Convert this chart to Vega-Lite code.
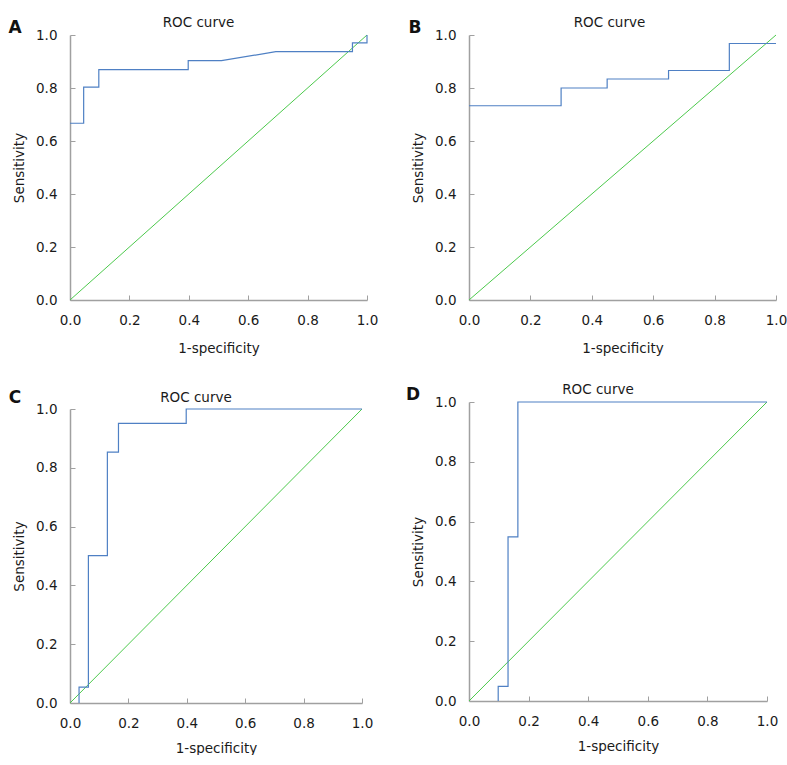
{
  "$schema": "https://vega.github.io/schema/vega-lite/v6.json",
  "background": "white",
  "padding": {"left": 8, "top": 15, "right": 0, "bottom": 0},
  "datasets": {
    "rocA": [
      {"i": 1, "fpr": 0, "tpr": 0.667},
      {"i": 2, "fpr": 0.046, "tpr": 0.667},
      {"i": 3, "fpr": 0.046, "tpr": 0.803},
      {"i": 4, "fpr": 0.097, "tpr": 0.803},
      {"i": 5, "fpr": 0.097, "tpr": 0.869},
      {"i": 6, "fpr": 0.398, "tpr": 0.869},
      {"i": 7, "fpr": 0.398, "tpr": 0.903},
      {"i": 8, "fpr": 0.51, "tpr": 0.903},
      {"i": 9, "fpr": 0.693, "tpr": 0.937},
      {"i": 10, "fpr": 0.951, "tpr": 0.937},
      {"i": 11, "fpr": 0.951, "tpr": 0.97},
      {"i": 12, "fpr": 1, "tpr": 0.97},
      {"i": 13, "fpr": 1, "tpr": 1}
    ],
    "rocB": [
      {"i": 1, "fpr": 0, "tpr": 0.733},
      {"i": 2, "fpr": 0.3, "tpr": 0.733},
      {"i": 3, "fpr": 0.3, "tpr": 0.8},
      {"i": 4, "fpr": 0.45, "tpr": 0.8},
      {"i": 5, "fpr": 0.45, "tpr": 0.834},
      {"i": 6, "fpr": 0.65, "tpr": 0.834},
      {"i": 7, "fpr": 0.65, "tpr": 0.866},
      {"i": 8, "fpr": 0.848, "tpr": 0.866},
      {"i": 9, "fpr": 0.848, "tpr": 0.968},
      {"i": 10, "fpr": 1, "tpr": 0.968}
    ],
    "rocC": [
      {"i": 1, "fpr": 0.031, "tpr": 0},
      {"i": 2, "fpr": 0.031, "tpr": 0.054},
      {"i": 3, "fpr": 0.063, "tpr": 0.054},
      {"i": 4, "fpr": 0.063, "tpr": 0.501},
      {"i": 5, "fpr": 0.128, "tpr": 0.501},
      {"i": 6, "fpr": 0.128, "tpr": 0.853},
      {"i": 7, "fpr": 0.166, "tpr": 0.853},
      {"i": 8, "fpr": 0.166, "tpr": 0.951},
      {"i": 9, "fpr": 0.398, "tpr": 0.951},
      {"i": 10, "fpr": 0.398, "tpr": 1},
      {"i": 11, "fpr": 1, "tpr": 1}
    ],
    "rocD": [
      {"i": 1, "fpr": 0.098, "tpr": 0},
      {"i": 2, "fpr": 0.098, "tpr": 0.049},
      {"i": 3, "fpr": 0.131, "tpr": 0.049},
      {"i": 4, "fpr": 0.131, "tpr": 0.549},
      {"i": 5, "fpr": 0.164, "tpr": 0.549},
      {"i": 6, "fpr": 0.164, "tpr": 1},
      {"i": 7, "fpr": 1, "tpr": 1}
    ],
    "diag": [
      {"i": 0, "fpr": 0, "tpr": 0},
      {"i": 1, "fpr": 1, "tpr": 1}
    ]
  },
  "spacing": 27,
  "hconcat": [
    {
      "spacing": 34,
      "vconcat": [
        {
          "width": 297, "height": 265,
          "title": {"text": "ROC curve", "offset": -10.5},
          "layer": [
            {"data": {"name": "diag"}, "mark": {"type": "line", "color": "#4cc94c", "strokeWidth": 1},
             "encoding": {
               "x": {"field": "fpr", "type": "quantitative", "scale": {"domain": [0, 1], "nice": false}, "axis": {"title": "1-specificity", "values": [0, 0.2, 0.4, 0.6, 0.8, 1]}},
               "y": {"field": "tpr", "type": "quantitative", "scale": {"domain": [0, 1], "nice": false}, "axis": {"title": "Sensitivity", "values": [0, 0.2, 0.4, 0.6, 0.8, 1]}},
               "order": {"field": "i"}}},
            {"data": {"name": "rocA"}, "mark": {"type": "line", "color": "#4f80c4", "strokeWidth": 1.2},
             "encoding": {"x": {"field": "fpr", "type": "quantitative"}, "y": {"field": "tpr", "type": "quantitative"}, "order": {"field": "i"}}},
            {"data": {"values": [{"label": "A"}]}, "mark": {"type": "text", "fontSize": 17, "fontWeight": "bold", "baseline": "middle", "color": "#111"},
             "encoding": {"x": {"datum": -0.185, "type": "quantitative"}, "y": {"datum": 1.027, "type": "quantitative"}, "text": {"field": "label"}}}
          ]
        },
        {
          "width": 292, "height": 294,
          "title": {"text": "ROC curve", "offset": -15.1},
          "layer": [
            {"data": {"name": "diag"}, "mark": {"type": "line", "color": "#4cc94c", "strokeWidth": 1},
             "encoding": {
               "x": {"field": "fpr", "type": "quantitative", "scale": {"domain": [0, 1], "nice": false}, "axis": {"title": "1-specificity", "titlePadding": 12, "values": [0, 0.2, 0.4, 0.6, 0.8, 1]}},
               "y": {"field": "tpr", "type": "quantitative", "scale": {"domain": [0, 1], "nice": false}, "axis": {"title": "Sensitivity", "values": [0, 0.2, 0.4, 0.6, 0.8, 1]}},
               "order": {"field": "i"}}},
            {"data": {"name": "rocC"}, "mark": {"type": "line", "color": "#4f80c4", "strokeWidth": 1.2},
             "encoding": {"x": {"field": "fpr", "type": "quantitative"}, "y": {"field": "tpr", "type": "quantitative"}, "order": {"field": "i"}}},
            {"data": {"values": [{"label": "C"}]}, "mark": {"type": "text", "fontSize": 17, "fontWeight": "bold", "baseline": "middle", "color": "#111"},
             "encoding": {"x": {"datum": -0.188, "type": "quantitative"}, "y": {"datum": 1.036, "type": "quantitative"}, "text": {"field": "label"}}}
          ]
        }
      ]
    },
    {
      "spacing": 28,
      "vconcat": [
        {
          "width": 307, "height": 265,
          "title": {"text": "ROC curve", "offset": -10.5, "dx": -13},
          "layer": [
            {"data": {"name": "diag"}, "mark": {"type": "line", "color": "#4cc94c", "strokeWidth": 1},
             "encoding": {
               "x": {"field": "fpr", "type": "quantitative", "scale": {"domain": [0, 1], "nice": false}, "axis": {"title": "1-specificity", "values": [0, 0.2, 0.4, 0.6, 0.8, 1]}},
               "y": {"field": "tpr", "type": "quantitative", "scale": {"domain": [0, 1], "nice": false}, "axis": {"title": "Sensitivity", "values": [0, 0.2, 0.4, 0.6, 0.8, 1]}},
               "order": {"field": "i"}}},
            {"data": {"name": "rocB"}, "mark": {"type": "line", "color": "#4f80c4", "strokeWidth": 1.2},
             "encoding": {"x": {"field": "fpr", "type": "quantitative"}, "y": {"field": "tpr", "type": "quantitative"}, "order": {"field": "i"}}},
            {"data": {"values": [{"label": "B"}]}, "mark": {"type": "text", "fontSize": 17, "fontWeight": "bold", "baseline": "middle", "color": "#111"},
             "encoding": {"x": {"datum": -0.176, "type": "quantitative"}, "y": {"datum": 1.027, "type": "quantitative"}, "text": {"field": "label"}}}
          ]
        },
        {
          "width": 298, "height": 299,
          "title": {"text": "ROC curve", "offset": -10.7},
          "layer": [
            {"data": {"name": "diag"}, "mark": {"type": "line", "color": "#4cc94c", "strokeWidth": 1},
             "encoding": {
               "x": {"field": "fpr", "type": "quantitative", "scale": {"domain": [0, 1], "nice": false}, "axis": {"title": "1-specificity", "titlePadding": 12, "values": [0, 0.2, 0.4, 0.6, 0.8, 1]}},
               "y": {"field": "tpr", "type": "quantitative", "scale": {"domain": [0, 1], "nice": false}, "axis": {"title": "Sensitivity", "values": [0, 0.2, 0.4, 0.6, 0.8, 1]}},
               "order": {"field": "i"}}},
            {"data": {"name": "rocD"}, "mark": {"type": "line", "color": "#4f80c4", "strokeWidth": 1.2},
             "encoding": {"x": {"field": "fpr", "type": "quantitative"}, "y": {"field": "tpr", "type": "quantitative"}, "order": {"field": "i"}}},
            {"data": {"values": [{"label": "D"}]}, "mark": {"type": "text", "fontSize": 17, "fontWeight": "bold", "baseline": "middle", "color": "#111"},
             "encoding": {"x": {"datum": -0.188, "type": "quantitative"}, "y": {"datum": 1.024, "type": "quantitative"}, "text": {"field": "label"}}}
          ]
        }
      ]
    }
  ],
  "config": {
    "font": "DejaVu Sans",
    "view": {"stroke": null},
    "axis": {
      "grid": false,
      "zindex": 1,
      "domainColor": "#a0a0a0",
      "domainWidth": 1.5,
      "tickColor": "#a0a0a0",
      "tickSize": -5,
      "labelFontSize": 13.5,
      "labelColor": "#1a1a1a",
      "titleFontSize": 13.5,
      "titleFontWeight": "normal",
      "titleColor": "#1a1a1a",
      "format": ".1f",
      "labelFlush": false,
      "labelOverlap": false
    },
    "axisX": {"labelPadding": 18, "titlePadding": 15},
    "axisY": {"labelPadding": 18, "titlePadding": 9},
    "title": {"fontSize": 13.5, "fontWeight": "normal", "color": "#1a1a1a", "dx": -20, "anchor": "middle"}
  }
}
